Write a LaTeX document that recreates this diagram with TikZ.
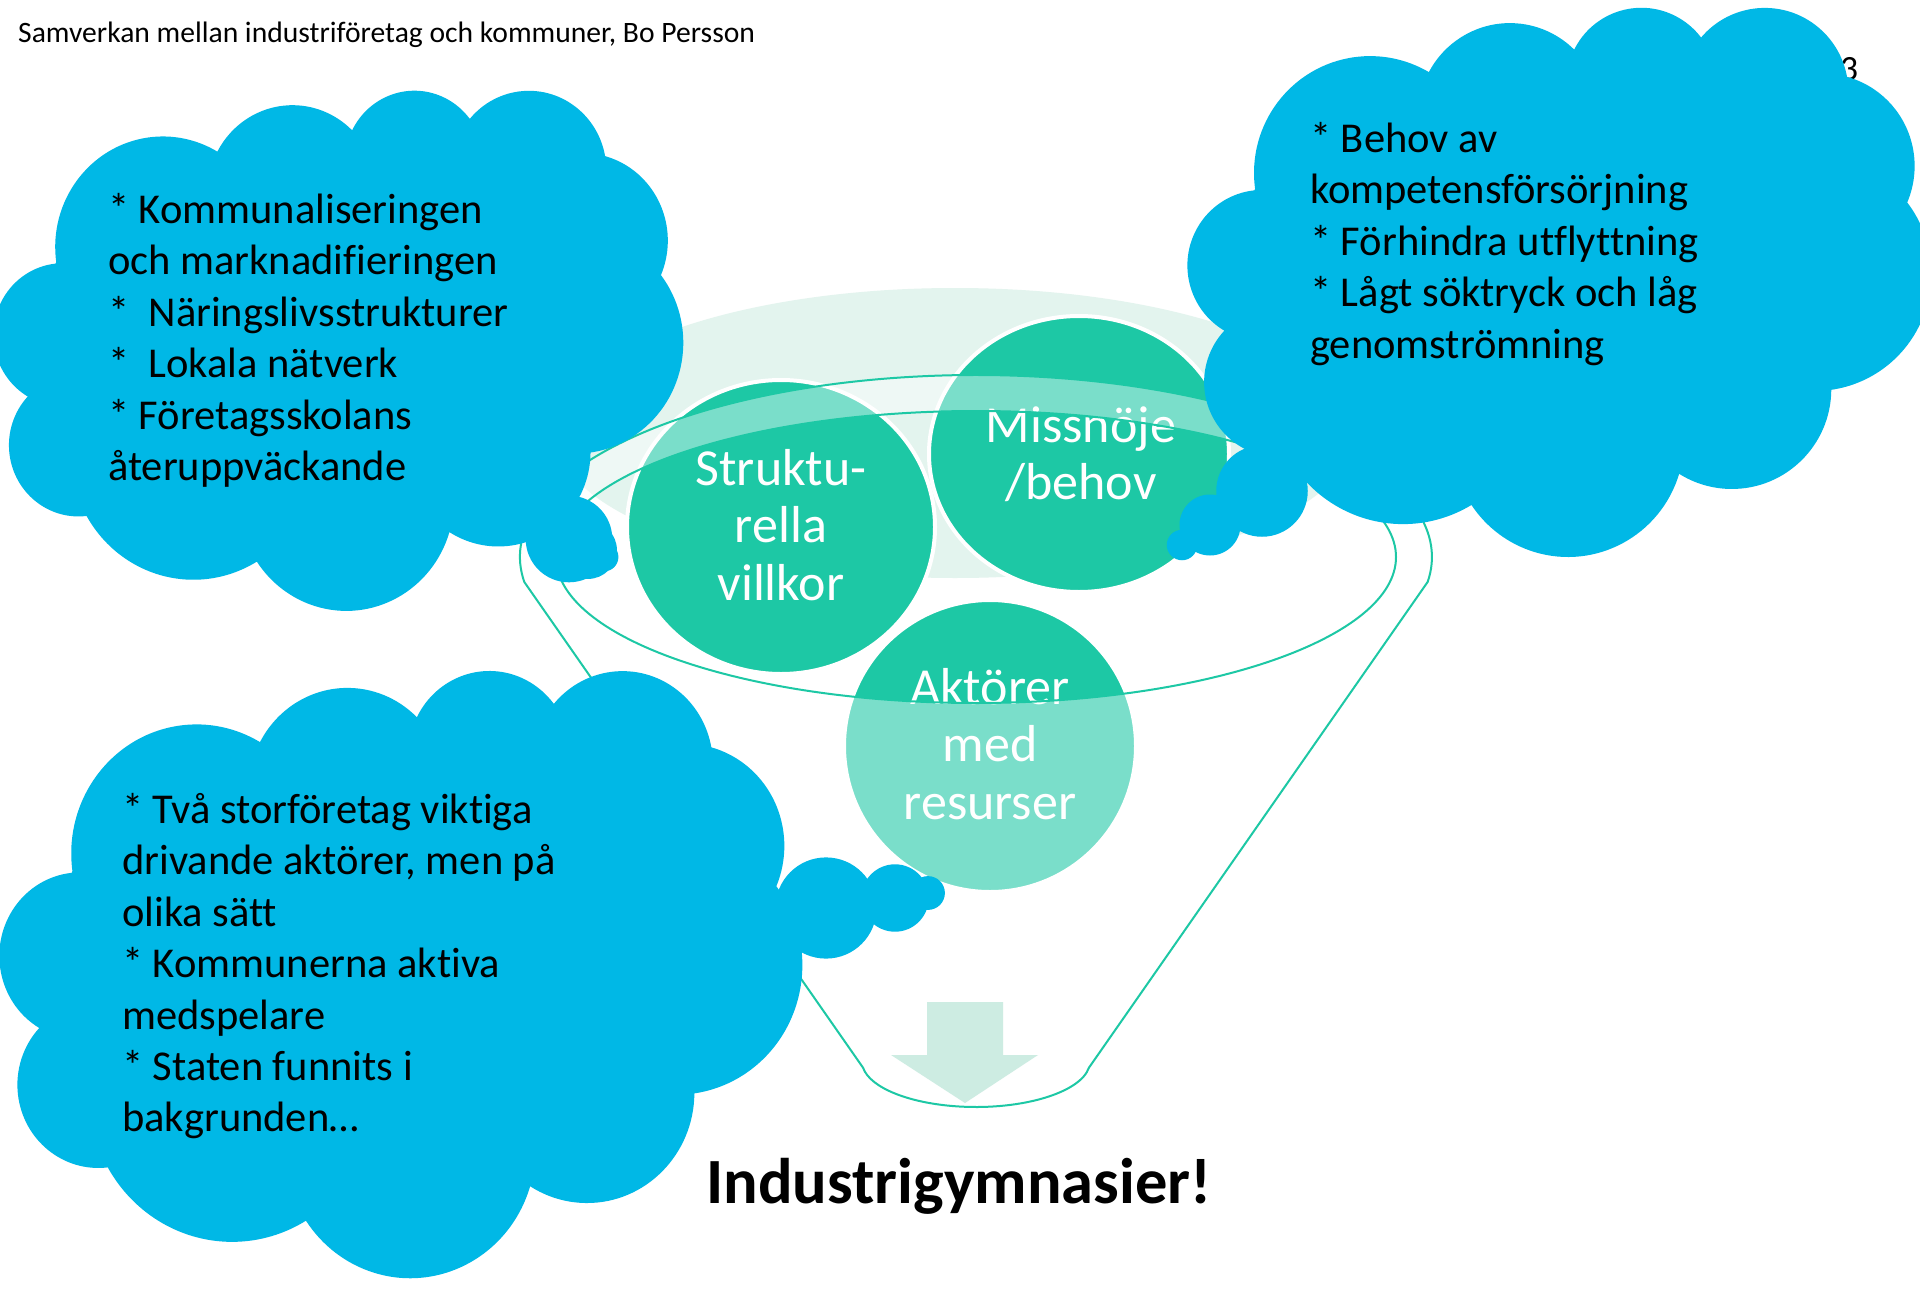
\documentclass[tikz,border=0pt]{standalone}
\usepackage{fontspec}
\setmainfont{Carlito}[Ligatures=NoCommon]
\definecolor{cloudblue}{RGB}{0,184,230}
\definecolor{circgreen}{RGB}{29,200,165}
\definecolor{lightbg}{RGB}{227,244,238}
\definecolor{arrowfill}{RGB}{170,224,206}
% one arc of the Office cloud outline (radii, visual start angle, sweep)
\newcommand\carc[4]{arc[x radius=#1, y radius=#2, start angle={atan2(#1*sin(#3),#2*cos(#3))}, delta angle={#4+mod(atan2(#1*sin(#3+#4),#2*cos(#3+#4))-atan2(#1*sin(#3),#2*cos(#3))-#4+540,360)-180}]}
\newcommand\cloudpath{(39.00,143.70)
 \carc{67.53}{91.90}{-190.4875}{123.7805}
 \carc{53.33}{72.67}{-144.1024}{89.9452}
 \carc{43.65}{59.45}{-145.8079}{99.7230}
 \carc{48.57}{65.95}{-130.9861}{117.2417}
 \carc{53.33}{72.73}{-78.7089}{109.0269}
 \carc{67.75}{92.20}{-46.2673}{130.2690}
 \carc{57.85}{78.67}{0.6250}{114.0333}
 \carc{67.52}{92.15}{22.4516}{115.1726}
 \carc{77.20}{105.43}{66.2426}{75.7110}
 \carc{43.60}{59.18}{-274.9421}{146.7356}
 \carc{43.45}{59.45}{-246.8285}{152.5189} -- cycle}
\newcommand\ctrline[1]{\hbox to 0pt{\hss #1\hss}}
\tikzset{
  cloudfill/.style={fill=cloudblue, draw=none},
  cloudtext/.style={anchor=base west, inner sep=0pt, font=\fontsize{42.5}{51.4}\selectfont},
  circ/.style={fill=circgreen, draw=white, line width=4pt},
  circtext/.style={anchor=base, inner sep=0pt, text=white, font=\fontsize{52}{57.6}\selectfont},
}
\begin{document}
\begin{tikzpicture}[x=1pt,y=1pt]
\useasboundingbox (0,0) rectangle (1920,-1290);
\clip (0,0) rectangle (1920,-1290);
\fill[white] (0,0) rectangle (1920,-1290);

\node[anchor=base west, inner sep=0pt, font=\fontsize{29.6}{35}\selectfont] (title) at (18,-43) {Samverkan mellan industriföretag och kommuner, Bo Persson};
\node[anchor=base west, inner sep=0pt, font=\fontsize{35.5}{42}\selectfont] (slideno) at (1840,-81) {3};

% light background of the funnel mouth
\fill[lightbg] (955,-433) ellipse[x radius=400, y radius=145];

% down arrow
\fill[arrowfill] (927,-1002) -- (1003,-1002) -- (1003,-1055) -- (1038,-1055) -- (965,-1103) -- (891,-1055) -- (927,-1055) -- cycle;

% circles
\path[circ] (781,-527) ellipse[x radius=154, y radius=147];
\path[circ] (1079,-454) ellipse[x radius=150, y radius=138];
\path[circ] (990,-746) ellipse[x radius=146, y radius=146];
\node[circtext] (struk) at (781,-485) {\vtop{\ctrline{Struktu-}\ctrline{rella}\ctrline{villkor}}};
\node[circtext] (miss) at (1081,-442) {\vtop{\ctrline{Missnöje}\ctrline{/behov}}};
\node[circtext] (akt) at (990,-704) {\vtop{\ctrline{Aktörer}\ctrline{med}\ctrline{resurser}}};

% funnel
\path[fill=white, fill opacity=0.41, even odd rule, draw=circgreen, line width=2pt]
  (524.3,-582) arc[start angle=187.9, delta angle=-195.8, x radius=456, y radius=182]
  -- (1088.9,-1067.75) arc[start angle=-7.9, delta angle=-164.2, x radius=114, y radius=45.5]
  -- cycle
  (976,-557) ellipse[x radius=420, y radius=146];

% clouds
\begin{scope}[shift={(-6,-89)}, xscale=1.5949, yscale=-1.2037]
  \fill[cloudfill] \cloudpath;
\end{scope}
\fill[cloudfill] (569,-539) circle[radius=43.3] (588,-550) circle[radius=28.9] (604,-557) circle[radius=14.4];

\begin{scope}[shift={(1188,-6)}, xscale=1.7199, yscale=-1.2708]
  \fill[cloudfill] \cloudpath;
\end{scope}
\fill[cloudfill] (1262,-491) circle[radius=45.75] (1210,-525) circle[radius=30.5] (1182,-545) circle[radius=15.25];

\begin{scope}[shift={(0,-669)}, xscale=1.8565, yscale=-1.4051]
  \fill[cloudfill] \cloudpath;
\end{scope}
\fill[cloudfill] (826,-908) circle[radius=50.6] (895,-898) circle[radius=33.7] (928,-893) circle[radius=16.9];

% cloud texts
\node[cloudtext] (leftnotes) at (108,-223.5) {\vtop{\hbox{* Kommunaliseringen}\hbox{och marknadifieringen}\hbox{*\ \ Näringslivsstrukturer}\hbox{*\ \ Lokala nätverk}\hbox{* Företagsskolans}\hbox{återuppväckande}}};
\node[cloudtext] (rightnotes) at (1310,-152.5) {\vtop{\hbox{* Behov av}\hbox{kompetensförsörjning}\hbox{* Förhindra utflyttning}\hbox{* Lågt söktryck och låg}\hbox{genomströmning}}};
\node[cloudtext] (bottomnotes) at (122,-823.5) {\vtop{\hbox{* Två storföretag viktiga}\hbox{drivande aktörer, men på}\hbox{olika sätt}\hbox{* Kommunerna aktiva}\hbox{medspelare}\hbox{* Staten funnits i}\hbox{bakgrunden…}}};

\node[anchor=base, inner sep=0pt, font=\fontsize{64.5}{78}\selectfont\bfseries] (result) at (959,-1203) {Industrigymnasier!};
\end{tikzpicture}
\end{document}
